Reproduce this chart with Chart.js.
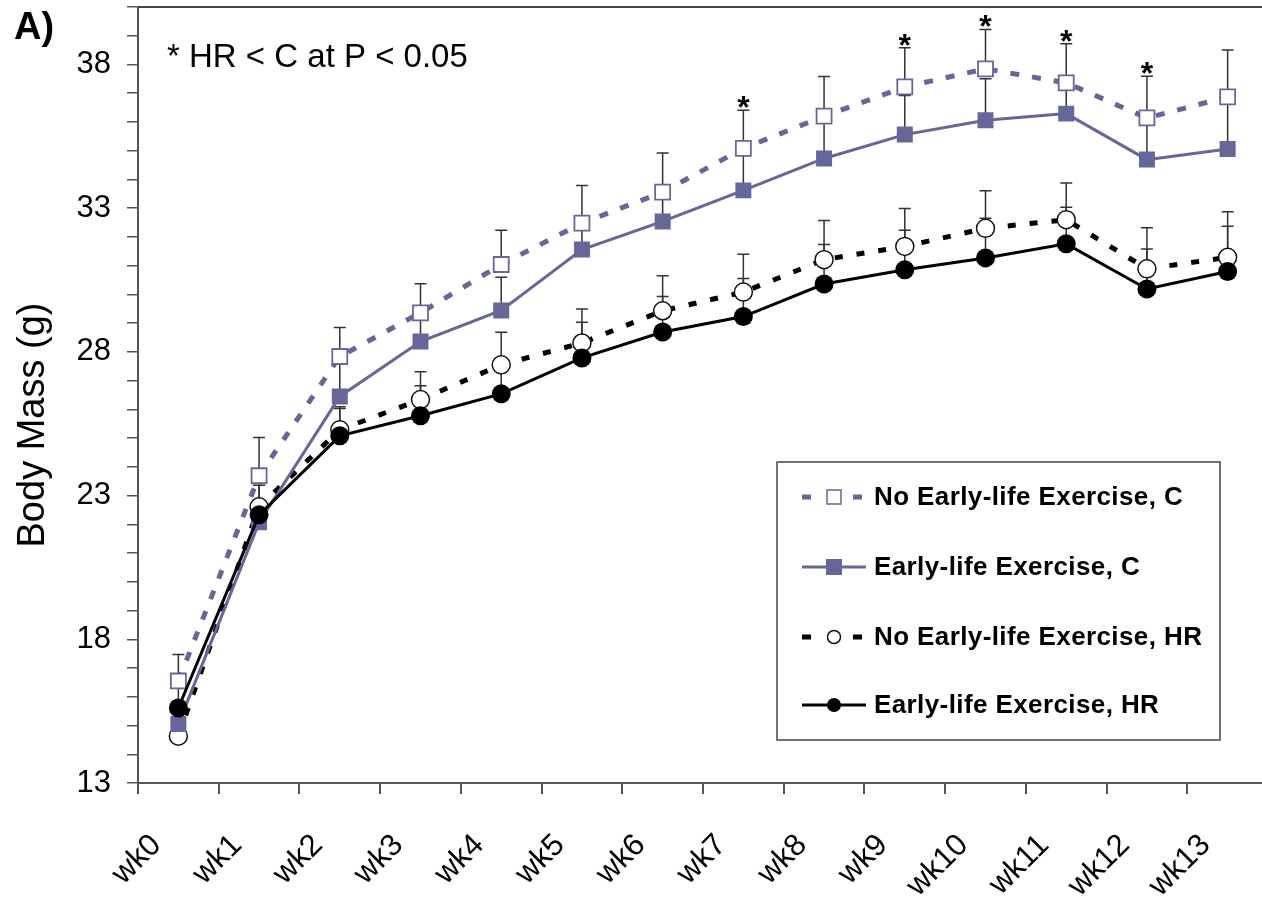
<!DOCTYPE html>
<html>
<head>
<meta charset="utf-8">
<script src="https://cdn.jsdelivr.net/npm/chart.js@4/dist/chart.umd.min.js"></script>
<style>
    html, body { margin: 0; padding: 0; background: #fff; overflow: hidden; }
    #chartBox { position: absolute; left: 0; top: 0; width: 1280px; height: 897px; }
</style>
</head>
<body>
<div id="chartBox"><canvas id="chart"></canvas></div>
<script>
// 주차
var weeks = ['wk0', 'wk1', 'wk2', 'wk3', 'wk4', 'wk5', 'wk6', 'wk7', 'wk8', 'wk9', 'wk10', 'wk11', 'wk12', 'wk13'];

// No Early-life Exercise, C
var noExC = [16.55, 23.69, 27.84, 29.36, 31.04, 32.48, 33.56, 35.08, 36.20, 37.22, 37.85, 37.36, 36.14, 36.87];
var noExCErr = [0.92, 1.33, 1.01, 1.01, 1.19, 1.31, 1.36, 1.33, 1.38, 1.36, 1.37, 1.36, 1.45, 1.63];

// Early-life Exercise, C
var exC = [15.05, 22.07, 26.45, 28.36, 29.44, 31.56, 32.54, 33.62, 34.73, 35.56, 36.06, 36.29, 34.69, 35.06];
var exCErr = [0.8, 1.5, 1.3, 1.1, 1.16, 0.95, 1.05, 1.5, 1.5, 1.36, 1.44, 1.1, 1.4, 1.7];

// No Early-life Exercise, HR
var noExHR = [14.63, 22.61, 25.29, 26.34, 27.55, 28.31, 29.43, 30.08, 31.21, 31.67, 32.30, 32.60, 30.89, 31.29];
var noExHRErr = [0.9, 0.75, 0.8, 0.97, 1.13, 1.18, 1.22, 1.32, 1.36, 1.32, 1.31, 1.28, 1.43, 1.59];

// Early-life Exercise, HR
var exHR = [15.61, 22.33, 25.08, 25.78, 26.54, 27.79, 28.69, 29.23, 30.36, 30.86, 31.27, 31.76, 30.19, 30.80];
var exHRErr = [0.9, 0.5, 0.95, 1.04, 1.0, 1.24, 1.24, 1.32, 1.38, 1.37, 1.38, 1.27, 1.39, 1.57];

// HR < C 유의 표시 (No Early-life Exercise, C 오차막대 위)
var sigStars = ['', '', '', '', '', '', '', '*', '', '*', '*', '*', '*', ''];

var yTicks = [13, 18, 23, 28, 33, 38];

var PURPLE = '#666699';
var FONT = '"Liberation Sans", Arial, sans-serif';

var datasets = [{
    label: 'No Early-life Exercise, C',
    data: noExC,
    err: noExCErr,
    borderColor: PURPLE,
    borderWidth: 5,
    borderDash: [9, 13],
    pointStyle: 'rect',
    pointRadius: 10.6,
    pointBackgroundColor: '#fff',
    pointBorderColor: PURPLE,
    pointBorderWidth: 1.8,
    order: 3
}, {
    label: 'Early-life Exercise, C',
    data: exC,
    err: exCErr,
    borderColor: PURPLE,
    borderWidth: 3,
    pointStyle: 'rect',
    pointRadius: 11.3,
    pointBackgroundColor: PURPLE,
    pointBorderColor: PURPLE,
    pointBorderWidth: 0,
    order: 1
}, {
    label: 'No Early-life Exercise, HR',
    data: noExHR,
    err: noExHRErr,
    borderColor: '#000',
    borderWidth: 5,
    borderDash: [8, 14],
    pointStyle: 'circle',
    pointRadius: 9,
    pointBackgroundColor: '#fff',
    pointBorderColor: '#111',
    pointBorderWidth: 1.5,
    order: 2
}, {
    label: 'Early-life Exercise, HR',
    data: exHR,
    err: exHRErr,
    borderColor: '#000',
    borderWidth: 3,
    pointStyle: 'circle',
    pointRadius: 9.5,
    pointBackgroundColor: '#000',
    pointBorderColor: '#000',
    pointBorderWidth: 0,
    order: 0
}];

/* 위쪽 오차막대 */
var errorBars = {
    id: 'errorBars',
    beforeDatasetsDraw: function (chart) {
        var ctx = chart.ctx;
        var yScale = chart.scales.y;
        ctx.save();
        ctx.strokeStyle = '#333';
        ctx.lineWidth = 1.5;
        chart.data.datasets.forEach(function (ds, i) {
            var meta = chart.getDatasetMeta(i);
            meta.data.forEach(function (pt, j) {
                var top = yScale.getPixelForValue(ds.data[j] + ds.err[j]);
                ctx.beginPath();
                ctx.moveTo(pt.x, pt.y);
                ctx.lineTo(pt.x, top);
                ctx.moveTo(pt.x - 6, top);
                ctx.lineTo(pt.x + 6, top);
                ctx.stroke();
            });
        });
        ctx.restore();
    }
};

/* 범례, 주석, 축 제목 */
var decorations = {
    id: 'decorations',
    afterDraw: function (chart) {
        var ctx = chart.ctx;
        var area = chart.chartArea;
        var yScale = chart.scales.y;
        ctx.save();

        // 위쪽 테두리
        ctx.strokeStyle = '#444';
        ctx.lineWidth = 2;
        ctx.beginPath();
        ctx.moveTo(area.left, area.top);
        ctx.lineTo(area.right, area.top);
        ctx.stroke();

        // 유의 별표
        ctx.fillStyle = '#000';
        ctx.font = 'bold 32px ' + FONT;
        ctx.textAlign = 'center';
        ctx.textBaseline = 'alphabetic';
        var meta0 = chart.getDatasetMeta(0);
        sigStars.forEach(function (s, j) {
            if (!s) return;
            var top = yScale.getPixelForValue(noExC[j] + noExCErr[j]);
            ctx.fillText(s, meta0.data[j].x, top + 8);
        });

        // 패널 라벨, 주석
        ctx.textAlign = 'left';
        ctx.font = 'bold 38px ' + FONT;
        ctx.fillText('A)', 14, 39);
        ctx.font = '33px ' + FONT;
        ctx.fillText('* HR < C at P < 0.05', 167, 67);

        // y축 제목
        ctx.save();
        ctx.translate(44, 425);
        ctx.rotate(-Math.PI / 2);
        ctx.textAlign = 'center';
        ctx.font = '38px ' + FONT;
        ctx.fillText('Body Mass (g)', 0, 0);
        ctx.restore();

        // 범례 박스
        ctx.strokeStyle = '#444';
        ctx.lineWidth = 1.5;
        ctx.strokeRect(777, 462, 443, 278);
        var rows = [497, 567, 637, 705];
        chart.data.datasets.forEach(function (ds, i) {
            var y = rows[i];
            ctx.strokeStyle = ds.borderColor;
            ctx.lineWidth = ds.borderDash ? 5 : 3;
            ctx.setLineDash(ds.borderDash ? [9, 42] : []);
            ctx.beginPath();
            ctx.moveTo(802, y);
            ctx.lineTo(866, y);
            ctx.stroke();
            ctx.setLineDash([]);
            ctx.fillStyle = ds.pointBackgroundColor;
            ctx.strokeStyle = ds.pointBorderColor;
            ctx.lineWidth = 1.5;
            ctx.beginPath();
            if (ds.pointStyle === 'rect') {
                var h = ds.pointBorderWidth ? 7 : 8;
                ctx.rect(834 - h, y - h, h * 2, h * 2);
            } else {
                ctx.arc(834, y, ds.pointBorderWidth ? 6.5 : 7, 0, Math.PI * 2);
            }
            ctx.fill();
            if (ds.pointBorderWidth) ctx.stroke();
            ctx.fillStyle = '#000';
            ctx.font = 'bold 26px ' + FONT;
            ctx.letterSpacing = '0.4px';
            ctx.textBaseline = 'middle';
            ctx.textAlign = 'left';
            ctx.fillText(ds.label, 874, y + 1);
            ctx.letterSpacing = '0px';
        });
        ctx.restore();
    }
};

// 축 크기 고정 (자동 여백 제거)
function fixX(scale) {
    scale.height = 114;
    scale.paddingLeft = 0; scale.paddingRight = 0; scale.paddingTop = 0; scale.paddingBottom = 0;
}
function fixY(scale) {
    scale.width = 138;
    scale.paddingLeft = 0; scale.paddingRight = 0; scale.paddingTop = 0; scale.paddingBottom = 0;
}

var M_CHART = new Chart(document.getElementById('chart'), {
    type: 'line',
    data: { labels: weeks, datasets: datasets },
    options: {
        responsive: true,
        maintainAspectRatio: false,
        animation: false,
        layout: { autoPadding: false, padding: { top: 7, right: 12, left: 0, bottom: 0 } },
        plugins: { legend: { display: false }, tooltip: { enabled: false } },
        scales: {
            x: {
                type: 'category',
                offset: true,
                afterFit: fixX,
                grid: { offset: true, drawOnChartArea: false, tickLength: 11, color: '#555', lineWidth: 2 },
                border: { color: '#555', width: 2 },
                ticks: {
                    autoSkip: false, minRotation: 45, maxRotation: 45,
                    labelOffset: -22, padding: 33,
                    color: '#000', font: { family: FONT, size: 31 }
                }
            },
            y: {
                min: 13,
                max: 40,
                afterFit: fixY,
                grid: { drawOnChartArea: false, tickLength: 11, color: '#555', lineWidth: 1.5 },
                border: { color: '#555', width: 2 },
                ticks: {
                    stepSize: 1, autoSkip: false, padding: 16,
                    color: '#000', font: { family: FONT, size: 31 },
                    callback: function (v) { return yTicks.indexOf(v) >= 0 ? String(v) : ''; }
                }
            }
        }
    },
    plugins: [errorBars, decorations]
});
</script>
</body>
</html>
